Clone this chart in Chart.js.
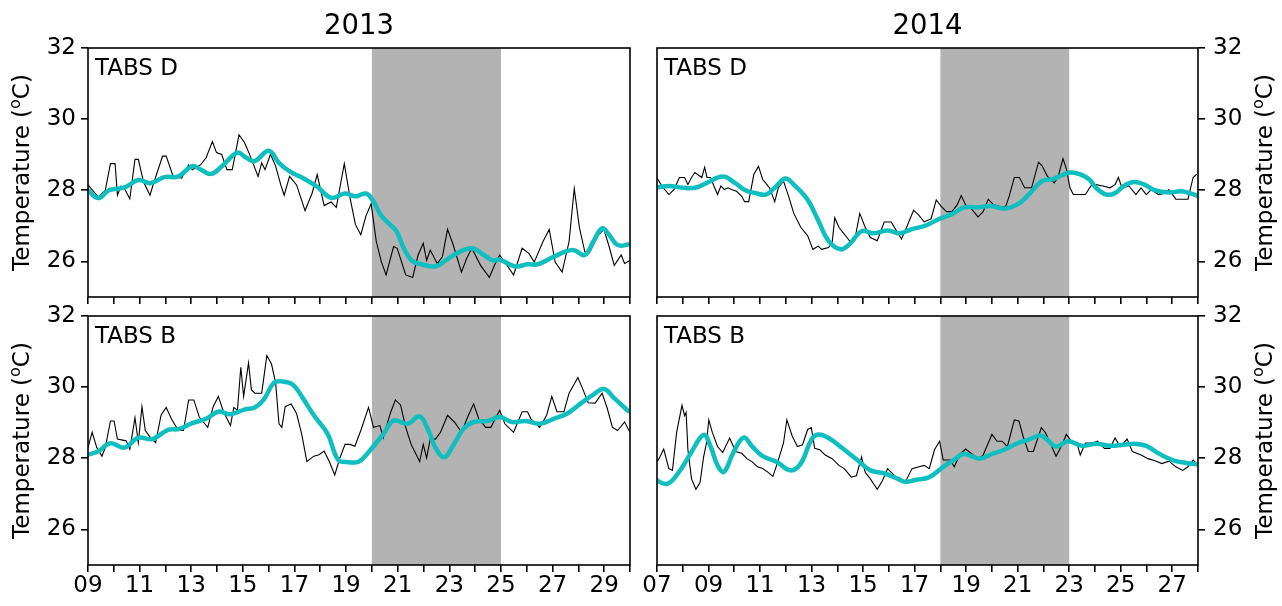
<!DOCTYPE html>
<html>
<head>
<meta charset="utf-8">
<script src="https://cdn.jsdelivr.net/npm/chart.js@4.4.1/dist/chart.umd.min.js"></script>
<style>
  html, body { margin: 0; padding: 0; background: #fff; }
  #wrap { position: relative; width: 1282px; height: 606px; overflow: hidden; background: #fff; }
  #wrap canvas { position: absolute; left: 0; top: 0; }
</style>
</head>
<body>
<div id="wrap">
  <canvas id="p2013D" width="1282" height="606"></canvas>
  <canvas id="p2014D" width="1282" height="606"></canvas>
  <canvas id="p2013B" width="1282" height="606"></canvas>
  <canvas id="p2014B" width="1282" height="606"></canvas>
</div>
<script>
// ---- Axis ticks and labels ----
const yTicks = [26, 28, 30, 32];
const dayTicks2013 = [9,10,11,12,13,14,15,16,17,18,19,20,21,22,23,24,25,26,27,28,29,30];
const dayLabelAt2013 = [9,11,13,15,17,19,21,23,25,27,29];
const dayLabels2013 = ['09','11','13','15','17','19','21','23','25','27','29'];
const dayTicks2014 = [7,8,9,10,11,12,13,14,15,16,17,18,19,20,21,22,23,24,25,26,27,28];
const dayLabelAt2014 = [7,9,11,13,15,17,19,21,23,25,27];
const dayLabels2014 = ['07','09','11','13','15','17','19','21','23','25','27'];

// Shaded intervals (day of month)
const shade2013 = [20, 25];
const shade2014 = [18, 23];

// ---- 2013, TABS D ----
const obsDay2013D = [9.0,9.40,9.67,9.87,10.05,10.14,10.28,10.41,10.62,10.82,10.95,11.15,11.40,11.56,11.89,12.03,12.30,12.63,12.90,13.04,13.37,13.58,13.82,13.98,14.18,14.38,14.59,14.85,15.06,15.26,15.59,15.73,15.86,16.07,16.27,16.47,16.60,16.81,17.08,17.41,17.68,17.88,18.15,18.42,18.62,18.93,19.16,19.36,19.57,19.77,19.97,20.17,20.37,20.55,20.84,20.98,21.31,21.58,21.79,21.99,22.12,22.26,22.53,22.73,22.93,23.13,23.47,23.67,23.87,24.21,24.55,24.75,24.95,25.15,25.49,25.82,26.09,26.29,26.63,26.87,27.10,27.37,27.64,27.84,28.04,28.25,28.45,28.78,28.99,29.19,29.39,29.66,29.79,30.0];
const obsTemp2013D = [28.15,27.81,28.00,28.75,28.75,27.86,28.12,28.05,27.76,28.87,28.87,28.24,27.86,28.24,28.96,28.96,28.39,28.34,28.72,28.58,28.72,28.92,29.37,29.06,29.01,28.58,28.58,29.56,29.35,29.01,28.39,28.77,28.58,29.01,28.68,28.15,27.86,28.39,28.15,27.43,27.91,28.44,27.57,27.67,27.52,28.75,27.76,27.04,26.75,27.28,27.62,26.56,25.98,25.62,26.42,26.37,25.62,25.55,26.18,26.51,26.03,26.32,25.94,26.13,26.90,26.51,25.70,26.08,26.37,25.89,25.55,25.89,26.18,25.98,25.62,26.37,26.22,25.98,26.56,26.90,25.98,25.70,26.56,28.05,26.95,26.27,26.27,26.75,26.90,26.42,25.89,26.18,25.94,26.03];
const modDay2013D = [9.0,9.40,9.81,10.21,10.48,10.95,11.42,11.96,12.50,13.04,13.37,13.78,14.25,14.79,15.12,15.46,16.0,16.40,16.81,17.34,17.88,18.42,18.96,19.36,19.77,20.04,20.35,20.64,20.95,21.25,21.55,21.92,22.46,22.86,23.27,23.87,24.34,24.68,24.95,25.55,26.03,26.43,27.04,27.77,28.25,28.58,28.92,29.19,29.52,30.0];
const modTemp2013D = [28.00,27.78,28.00,28.05,28.10,28.29,28.20,28.37,28.39,28.68,28.58,28.46,28.72,29.06,28.92,28.82,29.11,28.77,28.53,28.34,28.10,27.79,27.91,27.83,27.91,27.71,27.30,27.08,26.85,26.35,26.02,25.92,25.86,26.03,26.22,26.37,26.18,26.03,26.05,25.86,25.92,25.92,26.13,26.32,26.18,26.56,26.93,26.75,26.46,26.48];

// ---- 2014, TABS D ----
const obsDay2014D = [6.99,7.19,7.46,7.66,7.87,8.07,8.20,8.34,8.47,8.74,8.85,8.94,9.08,9.21,9.35,9.48,9.62,9.75,9.89,10.09,10.29,10.40,10.56,10.76,10.94,11.10,11.37,11.57,11.71,11.91,12.11,12.31,12.58,12.85,13.05,13.26,13.39,13.66,13.80,13.90,14.06,14.27,14.47,14.67,14.87,15.08,15.28,15.55,15.82,16.09,16.29,16.49,16.69,16.96,17.16,17.37,17.64,17.84,18.04,18.24,18.45,18.65,18.81,18.98,19.19,19.46,19.66,19.86,20.06,20.33,20.53,20.67,20.87,21.07,21.27,21.54,21.81,21.95,22.15,22.42,22.56,22.76,22.89,23.03,23.16,23.63,23.84,24.04,24.31,24.58,24.78,24.91,25.05,25.32,25.59,25.79,25.99,26.19,26.46,26.73,26.87,27.14,27.61,27.81,27.95];
const obsTemp2014D = [28.36,28.12,27.88,28.02,28.36,28.36,28.16,28.36,28.50,28.36,28.65,28.36,28.36,28.12,27.88,28.12,28.02,28.07,28.02,27.97,27.83,27.68,27.68,28.45,28.67,28.31,28.07,27.68,28.07,28.26,27.83,27.35,26.96,26.72,26.34,26.43,26.34,26.39,26.53,27.23,26.96,26.77,26.58,26.58,27.35,26.96,26.67,26.58,27.11,27.11,26.87,26.63,26.96,27.44,27.30,27.11,27.20,27.73,27.54,27.40,27.40,27.59,27.85,27.59,27.49,27.25,27.40,27.75,27.59,27.54,27.54,27.83,28.36,28.36,28.07,28.07,28.79,28.69,28.40,28.21,28.36,28.89,28.60,28.07,27.88,27.88,28.12,28.16,28.12,28.07,28.16,28.36,28.07,28.12,27.88,28.07,27.88,28.02,27.88,27.92,28.02,27.75,27.75,28.36,28.45];
const modDay2014D = [6.92,7.46,8.0,8.47,8.94,9.55,10.02,10.43,10.83,11.23,11.57,11.98,12.31,12.85,13.26,13.66,14.13,14.47,14.94,15.41,15.95,16.42,16.90,17.43,17.97,18.51,18.92,19.46,19.93,20.53,21.07,21.48,21.95,22.35,22.62,23.03,23.43,23.77,24.04,24.44,24.78,25.12,25.52,25.92,26.33,26.87,27.34,27.68,27.95];
const modTemp2014D = [28.07,28.12,28.07,28.07,28.21,28.39,28.21,28.00,27.92,27.88,28.07,28.33,28.16,27.73,27.15,26.58,26.34,26.48,26.85,26.79,26.87,26.79,26.91,27.01,27.20,27.35,27.52,27.52,27.56,27.49,27.64,27.92,28.26,28.31,28.39,28.50,28.45,28.31,28.07,27.88,27.92,28.12,28.23,28.16,28.00,27.94,27.97,27.92,27.85];

// ---- 2013, TABS B ----
const obsDay2013B = [9.0,9.16,9.34,9.54,9.67,9.87,10.01,10.14,10.48,10.62,10.82,10.95,11.09,11.22,11.42,11.62,11.83,12.03,12.23,12.50,12.70,12.90,13.10,13.31,13.64,13.85,14.05,14.25,14.52,14.65,14.79,14.92,15.03,15.22,15.33,15.46,15.73,15.93,16.11,16.27,16.40,16.51,16.64,16.87,17.08,17.28,17.48,17.75,17.95,18.15,18.35,18.56,18.76,18.96,19.16,19.34,19.57,19.87,20.06,20.31,20.44,20.71,20.91,21.11,21.31,21.52,21.85,21.99,22.12,22.26,22.46,22.66,22.93,23.20,23.47,23.74,23.94,24.14,24.41,24.61,24.95,25.15,25.49,25.82,26.03,26.16,26.50,26.77,26.97,27.17,27.44,27.64,27.98,28.18,28.38,28.65,28.92,29.12,29.32,29.52,29.79,30.0];
const obsTemp2013B = [28.30,28.73,28.30,28.06,28.30,29.05,29.05,28.54,28.49,28.25,29.14,28.44,29.45,28.78,28.58,28.44,29.21,29.43,29.11,28.78,28.78,29.64,29.64,29.16,28.87,29.45,29.74,29.31,28.92,29.43,29.35,30.56,29.74,30.68,29.93,29.83,29.83,30.89,30.65,30.12,28.97,28.87,29.45,29.53,29.26,28.68,27.91,28.06,28.10,28.20,27.91,27.53,28.01,28.39,28.39,28.34,28.78,29.43,28.87,28.92,28.58,29.26,29.64,29.50,28.87,28.39,27.91,28.39,28.01,28.54,28.54,28.73,29.21,29.02,28.73,29.21,29.53,29.11,28.87,28.87,29.35,28.97,28.73,29.31,29.31,29.11,28.87,29.21,29.74,29.31,29.31,29.83,30.27,29.93,29.56,29.55,29.83,29.40,28.87,28.78,29.02,28.73];
const modDay2013B = [9.0,9.40,9.87,10.41,10.95,11.49,12.10,12.50,13.04,13.58,14.05,14.52,15.06,15.46,15.80,16.20,16.54,16.94,17.28,17.75,18.29,18.69,19.09,19.50,19.90,20.44,20.84,21.38,21.85,22.19,22.46,22.80,23.13,23.54,23.94,24.48,24.95,25.42,25.96,26.50,27.04,27.57,28.11,28.52,28.99,29.39,29.93];
const modTemp2013B = [28.10,28.20,28.42,28.30,28.58,28.54,28.80,28.82,28.99,29.11,29.31,29.24,29.37,29.43,29.64,30.12,30.16,30.07,29.74,29.21,28.68,27.96,27.89,27.91,28.20,28.68,29.06,28.97,29.18,28.78,28.30,28.03,28.34,28.82,29.02,29.05,29.16,29.02,29.05,28.97,29.11,29.26,29.55,29.76,29.95,29.69,29.33];

// ---- 2014, TABS B ----
const obsDay2014B = [6.99,7.08,7.26,7.46,7.60,7.76,7.89,7.97,8.07,8.13,8.20,8.34,8.51,8.67,8.81,8.92,9.01,9.15,9.35,9.55,9.82,10.05,10.29,10.49,10.70,10.90,11.10,11.30,11.50,11.71,11.91,12.04,12.25,12.45,12.65,12.85,12.99,13.12,13.32,13.53,13.80,14.06,14.27,14.54,14.74,14.94,15.08,15.28,15.55,15.75,15.95,16.22,16.36,16.63,16.90,17.17,17.37,17.57,17.77,17.97,18.11,18.38,18.54,18.76,18.98,19.19,19.46,19.66,19.83,20.00,20.20,20.40,20.60,20.87,21.05,21.21,21.41,21.61,21.92,22.08,22.29,22.49,22.69,22.89,23.09,23.30,23.43,23.63,23.90,24.10,24.37,24.58,24.78,24.98,25.25,25.45,25.79,26.06,26.33,26.60,26.87,27.14,27.41,27.61,27.81,27.95];
const obsTemp2014B = [27.90,27.99,28.26,27.71,27.66,28.72,29.20,29.49,29.20,29.29,28.24,27.42,27.13,27.32,28.04,28.43,29.08,28.72,28.33,28.16,28.57,28.19,28.14,27.99,27.90,27.76,27.71,27.61,27.49,27.95,28.43,29.08,28.62,28.33,28.38,28.81,28.86,28.28,28.24,28.09,27.99,27.80,27.71,27.47,27.51,28.04,27.61,27.42,27.13,27.37,27.71,27.51,27.37,27.32,27.71,27.76,27.80,27.71,28.24,28.48,27.95,27.95,27.76,28.12,28.26,28.14,27.99,28.09,28.38,28.67,28.48,28.48,28.33,29.08,29.05,28.62,28.19,28.19,28.86,28.72,28.38,28.06,28.33,28.67,28.48,28.43,28.09,28.43,28.43,28.48,28.28,28.28,28.57,28.33,28.54,28.19,28.09,27.99,27.93,27.85,27.92,27.76,27.66,27.76,27.95,27.85];
const modDay2014B = [6.92,7.39,7.80,8.27,8.81,9.08,9.35,9.60,9.95,10.36,10.70,11.10,11.64,12.18,12.58,12.99,13.26,13.66,14.20,14.74,15.28,15.82,16.36,16.63,17.03,17.57,18.11,18.51,18.92,19.52,19.99,20.47,21.01,21.48,21.88,22.15,22.49,22.96,23.50,24.04,24.58,25.12,25.52,25.99,26.46,27.01,27.54,27.95];
const modTemp2014B = [27.40,27.28,27.56,28.09,28.66,28.33,27.80,27.62,28.14,28.58,28.33,28.06,27.90,27.66,27.85,28.52,28.67,28.57,28.28,27.97,27.66,27.58,27.42,27.34,27.39,27.47,27.76,27.95,28.12,27.99,28.12,28.24,28.43,28.54,28.64,28.52,28.33,28.48,28.35,28.41,28.35,28.38,28.41,28.35,28.14,27.95,27.87,27.83];

// ---- Drawing ----
const FONT = '"DejaVu Sans", "Liberation Sans", sans-serif';
const OBS_COLOR = '#000000';
const MOD_COLOR = '#0fbfbf';
const SHADE_COLOR = '#b3b3b3';
const Y_AXIS_W = 60, X_AXIS_H = 40, TICK_LEN = 7, AXIS_LW = 1.6;

function pairs(xs, ys) { return xs.map((x, i) => ({ x: x, y: ys[i] })); }

function drawTempTitle(ctx, baseX, centerY) {
  const parts = [
    { t: 'Temperature (', size: 23, dy: 0 },
    { t: 'o', size: 16, dy: -9 },
    { t: 'C)', size: 23, dy: 0 }
  ];
  let total = 0;
  parts.forEach(p => { ctx.font = p.size + 'px ' + FONT; p.w = ctx.measureText(p.t).width; total += p.w; });
  ctx.save();
  ctx.translate(baseX, centerY);
  ctx.rotate(-Math.PI / 2);
  ctx.fillStyle = '#000';
  ctx.textBaseline = 'alphabetic';
  ctx.textAlign = 'left';
  let x = -total / 2;
  parts.forEach(p => { ctx.font = p.size + 'px ' + FONT; ctx.fillText(p.t, x, p.dy); x += p.w; });
  ctx.restore();
}

const panelDecor = {
  id: 'panelDecor',
  beforeDatasetsDraw(chart, args, opts) {
    const a = chart.chartArea, xs = chart.scales.x, ctx = chart.ctx;
    const x0 = xs.getPixelForValue(opts.shade[0]);
    const x1 = xs.getPixelForValue(opts.shade[1]);
    ctx.save();
    ctx.fillStyle = SHADE_COLOR;
    ctx.fillRect(x0, a.top, x1 - x0, a.bottom - a.top);
    ctx.restore();
  },
  afterDraw(chart, args, opts) {
    const a = chart.chartArea, ctx = chart.ctx;
    ctx.save();
    ctx.strokeStyle = '#000';
    ctx.lineWidth = AXIS_LW;
    ctx.strokeRect(a.left, a.top, a.right - a.left, a.bottom - a.top);
    ctx.fillStyle = '#000';
    ctx.font = '23px ' + FONT;
    ctx.textAlign = 'left';
    ctx.textBaseline = 'alphabetic';
    ctx.fillText(opts.label, a.left + 7, a.top + 26.5);
    if (opts.title) {
      ctx.font = '27.5px ' + FONT;
      ctx.textAlign = 'center';
      ctx.fillText(opts.title, (a.left + a.right) / 2, 34);
    }
    ctx.restore();
    const cy = (a.top + a.bottom) / 2;
    if (opts.side === 'left') drawTempTitle(ctx, a.left - 59, cy);
    else drawTempTitle(ctx, a.right + 74, cy);
  }
};

function makePanel(id, p) {
  const r = p.rect;
  const padding = p.side === 'left'
    ? { left: r.l - Y_AXIS_W, right: 1282 - r.r, top: r.t, bottom: 606 - r.b - X_AXIS_H }
    : { left: r.l, right: 1282 - r.r - Y_AXIS_W, top: r.t, bottom: 606 - r.b - X_AXIS_H };
  const gridOpts = {
    display: true, drawOnChartArea: false, drawTicks: true,
    tickLength: TICK_LEN, tickWidth: AXIS_LW, tickColor: '#000',
    color: '#000', lineWidth: AXIS_LW
  };
  return new Chart(document.getElementById(id), {
    type: 'line',
    data: {
      datasets: [
        { data: pairs(p.modX, p.modY), borderColor: MOD_COLOR, borderWidth: 4.5,
          pointRadius: 0, tension: 0.4, fill: false, order: 0, borderCapStyle: 'round', borderJoinStyle: 'round' },
        { data: pairs(p.obsX, p.obsY), borderColor: OBS_COLOR, borderWidth: 1.1,
          pointRadius: 0, tension: 0, fill: false, order: 1 }
      ]
    },
    options: {
      responsive: false,
      animation: false,
      events: [],
      layout: { padding: padding },
      plugins: {
        legend: { display: false },
        tooltip: { enabled: false },
        panelDecor: { shade: p.shade, label: p.label, title: p.title, side: p.side }
      },
      scales: {
        x: {
          type: 'linear', min: p.xMin, max: p.xMax,
          grid: gridOpts, border: { display: false },
          afterBuildTicks: s => { s.ticks = p.dayTicks.map(v => ({ value: v })); },
          afterFit: s => { s.height = X_AXIS_H; },
          ticks: {
            display: p.showX, autoSkip: false, maxRotation: 0, minRotation: 0, padding: 0,
            color: '#000', font: { family: FONT, size: 23 },
            callback: v => { const k = p.labelAt.indexOf(v); return k >= 0 ? p.labels[k] : ''; }
          }
        },
        y: {
          type: 'linear', position: p.side, min: 25, max: 32,
          grid: gridOpts, border: { display: false },
          afterBuildTicks: s => { s.ticks = yTicks.map(v => ({ value: v })); },
          afterFit: s => { s.width = Y_AXIS_W; },
          ticks: {
            autoSkip: false, padding: p.side === 'left' ? 5 : 8,
            color: '#000', font: { family: FONT, size: 23 },
            callback: v => String(v)
          }
        }
      }
    },
    plugins: [panelDecor]
  });
}

const rowTop = { t: 48, b: 297 }, rowBottom = { t: 316, b: 565 };
const leftCol = { l: 88, r: 630 }, rightCol = { l: 657, r: 1198 };

makePanel('p2013D', { rect: { ...leftCol, ...rowTop }, side: 'left', title: '2013', label: 'TABS D', showX: false,
  xMin: 9, xMax: 30, dayTicks: dayTicks2013, labelAt: dayLabelAt2013, labels: dayLabels2013, shade: shade2013,
  obsX: obsDay2013D, obsY: obsTemp2013D, modX: modDay2013D, modY: modTemp2013D });
makePanel('p2014D', { rect: { ...rightCol, ...rowTop }, side: 'right', title: '2014', label: 'TABS D', showX: false,
  xMin: 7, xMax: 28, dayTicks: dayTicks2014, labelAt: dayLabelAt2014, labels: dayLabels2014, shade: shade2014,
  obsX: obsDay2014D, obsY: obsTemp2014D, modX: modDay2014D, modY: modTemp2014D });
makePanel('p2013B', { rect: { ...leftCol, ...rowBottom }, side: 'left', title: null, label: 'TABS B', showX: true,
  xMin: 9, xMax: 30, dayTicks: dayTicks2013, labelAt: dayLabelAt2013, labels: dayLabels2013, shade: shade2013,
  obsX: obsDay2013B, obsY: obsTemp2013B, modX: modDay2013B, modY: modTemp2013B });
makePanel('p2014B', { rect: { ...rightCol, ...rowBottom }, side: 'right', title: null, label: 'TABS B', showX: true,
  xMin: 7, xMax: 28, dayTicks: dayTicks2014, labelAt: dayLabelAt2014, labels: dayLabels2014, shade: shade2014,
  obsX: obsDay2014B, obsY: obsTemp2014B, modX: modDay2014B, modY: modTemp2014B });
</script>
</body>
</html>
